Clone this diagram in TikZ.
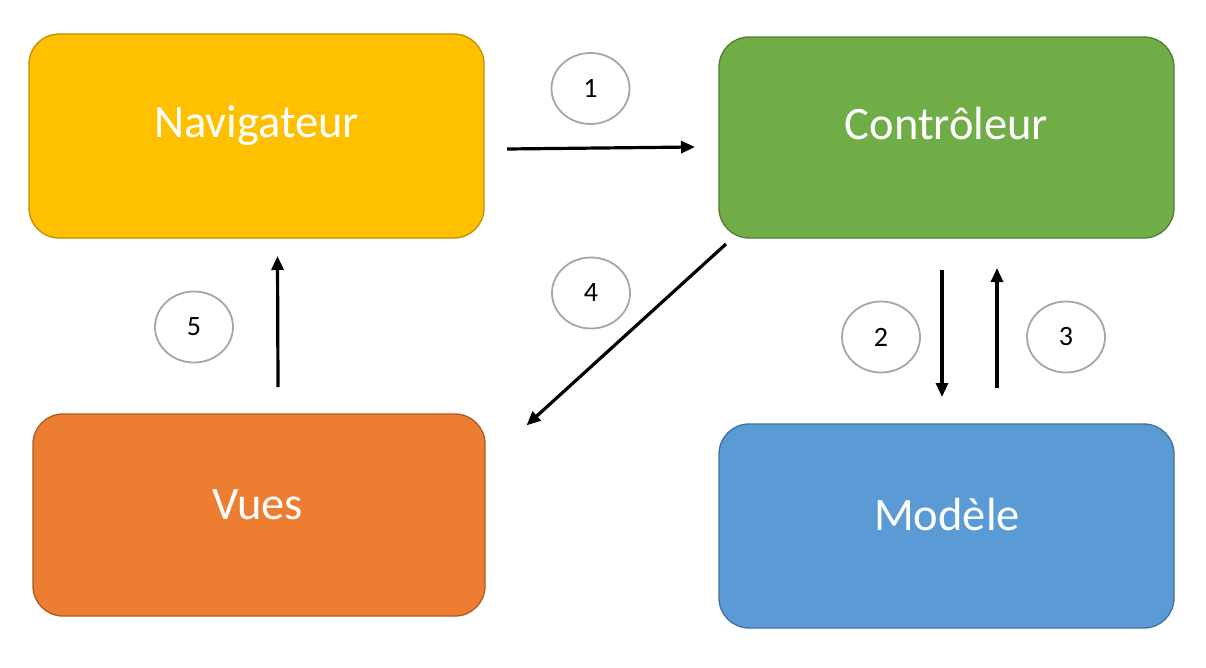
\documentclass[tikz,border=0pt]{standalone}
\usepackage{fontspec}
\setmainfont{Carlito}
\usetikzlibrary{arrows.meta,shapes.geometric}
\definecolor{navfill}{HTML}{FFC000}
\definecolor{navdraw}{HTML}{BF9000}
\definecolor{ctlfill}{HTML}{70AD47}
\definecolor{ctldraw}{HTML}{507E32}
\definecolor{vuefill}{HTML}{ED7D31}
\definecolor{vuedraw}{HTML}{AE5A21}
\definecolor{modfill}{HTML}{5B9BD5}
\definecolor{moddraw}{HTML}{41719C}
\definecolor{circgray}{HTML}{A6A6A6}
\tikzset{
  boxshape/.style={draw, line width=1.3pt, rounded corners=30pt},
  boxtext/.style={anchor=base, text=white, font=\fontsize{46.5}{54}\selectfont, inner sep=0pt},
  stepcirc/.style={ellipse, draw=circgray, line width=1.8pt, minimum width=78pt, minimum height=71pt, inner sep=0pt, font=\fontsize{28}{32}\selectfont},
  flow/.style={line width=3.2pt, -{Triangle[length=14pt,width=12pt]}, shorten >=-2pt}
}
\begin{document}
\begin{tikzpicture}[x=1pt,y=-1pt]
\useasboundingbox (0,0) rectangle (1206,667);
% boxes
\draw[boxshape, fill=navfill, draw=navdraw] (29,34) rectangle (484,238);
\draw[boxshape, fill=ctlfill, draw=ctldraw] (719,37) rectangle (1174,238);
\draw[boxshape, fill=vuefill, draw=vuedraw] (33,414) rectangle (485,616);
\draw[boxshape, fill=modfill, draw=moddraw] (719,424) rectangle (1174,628);
% texts
\node[boxtext] (nav) at (256.5,137) {Navigateur};
\node[boxtext] (ctl) at (946.5,139) {Contrôleur};
\node[boxtext] (vue) at (257.5,519) {Vues};
\node[boxtext] (mod) at (947,530) {Modèle};
% step circles
\node[stepcirc] (c1) at (590.5,88.5) {1};
\node[stepcirc] (c4) at (591,293) {4};
\node[stepcirc] (c5) at (194,327) {5};
\node[stepcirc] (c2) at (881,337) {2};
\node[stepcirc] (c3) at (1066,337) {3};
% arrow end points
\coordinate (a1s) at (507,149);
\coordinate (a1e) at (693,147);
\coordinate (a4s) at (726,244);
\coordinate (a4e) at (528,424);
\coordinate (a2s) at (942,270);
\coordinate (a2e) at (942,395);
\coordinate (a3s) at (997,388);
\coordinate (a3e) at (997,270);
\coordinate (a5s) at (278,387);
\coordinate (a5e) at (277.5,258);
\draw[flow] (a1s) -- (a1e);
\draw[flow] (a4s) -- (a4e);
\draw[flow] (a2s) -- (a2e);
\draw[flow] (a3s) -- (a3e);
\draw[flow] (a5s) -- (a5e);
\end{tikzpicture}
\end{document}
